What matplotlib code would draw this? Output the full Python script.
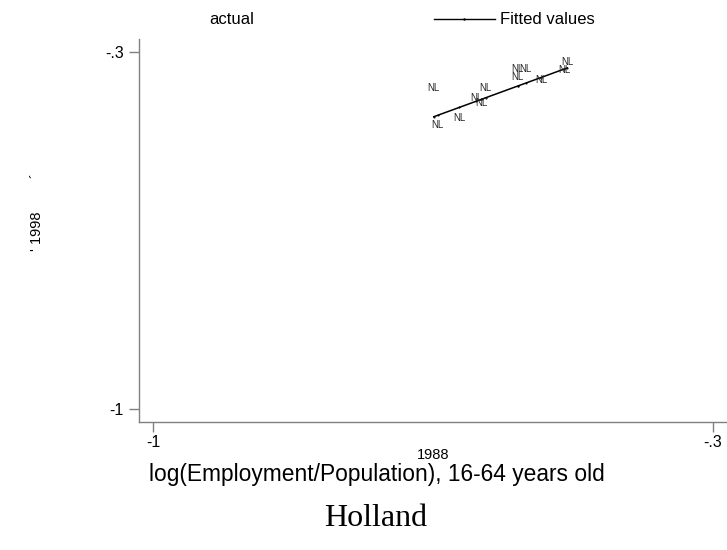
# -*- coding: utf-8 -*-
""" Nuage emploi/population 1988 vs 1998, Hollande """

import numpy as np
import matplotlib
matplotlib.use("Agg")
import matplotlib.pyplot as plt
from matplotlib.lines import Line2D

plt.rcParams['font.family'] = ['Liberation Sans', 'DejaVu Sans']

# donnees
x_1988 = [-0.649, -0.584, -0.544, -0.534, -0.544, -0.515,
          -0.482, -0.486, -0.596, -0.589, -0.617, -0.644]
y_1998 = [-0.381, -0.381, -0.344, -0.344, -0.359, -0.365,
          -0.330, -0.346, -0.401, -0.410, -0.440, -0.453]
labels = ['NL'] * len(x_1988)

xticks = [-1, -0.3]
xtick_labels = ['-1', '-.3']
yticks = [-1, -0.3]
ytick_labels = ['-1', '-.3']

# droite des moindres carres (fitted values)
x = np.array(x_1988)
y = np.array(y_1998)
b, a = np.polyfit(x, y, 1)
order = np.argsort(x)
fitted = a + b * x[order]

fig = plt.figure(figsize=(7.27, 5.5), dpi=100)
ax = fig.add_axes([139 / 727, 1 - 422.3 / 550, 1 - 139 / 727, 383 / 550])

for xi, yi, lab in zip(x_1988, y_1998, labels):
    ax.text(xi, yi, lab, fontsize=7, ha='center', va='bottom', color='#222222')

ax.plot(x[order], fitted, color='black', lw=1.1, marker='.', markersize=1)

ax.set_xlim(-1.0179, -0.2821)
ax.set_ylim(-1.0261, -0.2757)
ax.set_xticks(xticks)
ax.set_xticklabels(xtick_labels)
ax.set_yticks(yticks)
ax.set_yticklabels(ytick_labels)

for side in ['top', 'right']:
    ax.spines[side].set_visible(False)
for side in ['left', 'bottom']:
    ax.spines[side].set_color('#808080')
    ax.spines[side].set_linewidth(1)
ax.tick_params(axis='both', colors='#808080', labelcolor='black',
               length=7, width=1, labelsize=11.5)
ax.tick_params(axis='x', pad=2)
ax.tick_params(axis='y', pad=4)

ax.set_xlabel('1988', fontsize=10.5)
ax.xaxis.set_label_coords(0.5, -0.068)
ax.set_ylabel("' 1998", fontsize=10.5)
ax.yaxis.set_label_coords(-0.1616, 0.5)
# petit reste du titre de l'axe y
fig.text(37 / 727, 1 - 176 / 550, '´', fontsize=10.5, rotation=90,
         ha='center', va='center')

# legende
handles = [Line2D([], [], linestyle='none'),
           Line2D([], [], color='black', lw=1, marker='.', markersize=1.5)]
fig.legend(handles, ['actual', 'Fitted values'], ncol=2, frameon=False,
           loc='center left', bbox_to_anchor=(143 / 727, 1 - 20 / 550),
           fontsize=12, handlelength=3.66, handletextpad=0.3,
           columnspacing=10.8, borderpad=0, borderaxespad=0, numpoints=1)

fig.text(377 / 727, 1 - 475 / 550, 'log(Employment/Population), 16-64 years old',
         fontsize=16.4, ha='center', va='center')
fig.text(376 / 727, 1 - 518 / 550, 'Holland', fontsize=23, ha='center',
         va='center', family='Liberation Serif')

fig.savefig('out.png', dpi=100)
